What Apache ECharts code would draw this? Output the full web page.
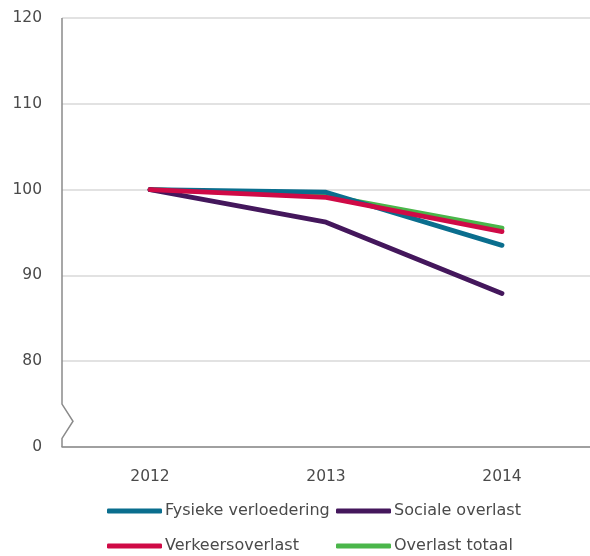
<!DOCTYPE html>
<html><head><meta charset="utf-8">
<script src="https://cdn.jsdelivr.net/npm/echarts@6/dist/echarts.min.js"></script>
<style>html,body{margin:0;padding:0;background:#fff}#c{width:590px;height:556px}</style>
</head><body><div id="c"></div>
<script>
var years = ['2012', '2013', '2014'];
var fysiekeVerloedering = [100, 99.7, 93.5];
var socialeOverlast = [100, 96.2, 87.9];
var verkeersoverlast = [100, 99.1, 95.1];
var overlastTotaal = [100, 99.3, 95.5];
var yTicks = [70, 80, 90, 100, 110, 120];
var yTickLabels = ['0', '80', '90', '100', '110', '120'];

var GL = 62, GT = 18, GB = 109;
var font = 'DejaVu Sans';
var chart = echarts.init(document.getElementById('c'), null, {renderer: 'canvas'});
function series(name, data, color) {
  return {name: name, type: 'line', data: data, symbol: 'none', smooth: false,
    lineStyle: {color: color, width: 4.8, cap: 'round', join: 'round'}, itemStyle: {color: color}, z: 3};
}
function leg(name, left, top) {
  return {data: [name], left: left, top: top, padding: 0,
    itemWidth: 55, itemHeight: 5, icon: 'roundRect',
    textStyle: {color: '#4a4a4a', fontFamily: font, fontSize: 16, padding: [0, 0, 0, -2]}};
}
var option = {
  animation: false,
  grid: {left: GL, right: 0, top: GT, bottom: GB},
  xAxis: {type: 'category', data: years, boundaryGap: true,
    axisLine: {lineStyle: {color: '#8a8a8a', width: 1.5}}, axisTick: {show: false},
    axisLabel: {color: '#4a4a4a', fontFamily: font, fontSize: 15.5, margin: 22}},
  yAxis: {type: 'value', min: yTicks[0], max: yTicks[yTicks.length - 1], interval: 10,
    axisLine: {show: false}, axisTick: {show: false},
    splitLine: {lineStyle: {color: '#d9d9d9', width: 1.5}},
    axisLabel: {color: '#4a4a4a', fontFamily: font, fontSize: 15.5, margin: 20,
      formatter: function (v) { var i = yTicks.indexOf(v); return i >= 0 ? yTickLabels[i] : ''; }}},
  legend: [
    leg('Fysieke verloedering', 107, 503),
    leg('Verkeersoverlast', 107, 538),
    leg('Sociale overlast', 336, 503),
    leg('Overlast totaal', 336, 538)
  ],
  series: [
    series('Overlast totaal', overlastTotaal, '#4ab64a'),
    series('Fysieke verloedering', fysiekeVerloedering, '#0a6e8e'),
    series('Sociale overlast', socialeOverlast, '#44175c'),
    series('Verkeersoverlast', verkeersoverlast, '#cf0a46')
  ]
};
chart.setOption(option);
function py(v) { return chart.convertToPixel({yAxisIndex: 0}, v); }
var x0 = GL;
chart.setOption({graphic: [{type: 'polyline', z: 10,
  shape: {points: [[x0, py(120)], [x0, py(75)], [x0 + 11, py(73)], [x0, py(71)], [x0, py(70)]]},
  style: {stroke: '#8a8a8a', lineWidth: 1.5, fill: null}}]});
</script></body></html>
